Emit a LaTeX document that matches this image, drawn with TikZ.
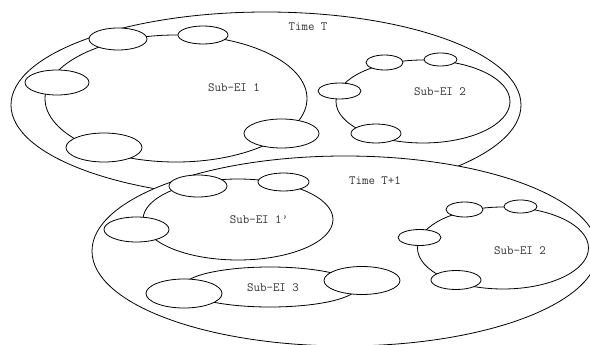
\documentclass[tikz,border=0pt]{standalone}
\usetikzlibrary{shapes.geometric}
\begin{document}
\begin{tikzpicture}[x=1pt,y=-1pt,line width=0.8pt,
  ell/.style 2 args={ellipse,draw=black,inner sep=0pt,minimum width=#1pt,minimum height=#2pt},
  outer/.style 2 args={ell={#1}{#2},fill=white},
  loop/.style 2 args={ell={#1}{#2}},
  blob/.style 2 args={ell={#1}{#2},fill=white},
  lbl/.style={inner sep=0pt,font=\fontsize{12.6}{14}\selectfont\ttfamily,text=black!80}]
\clip (0,0) rectangle (590,345);
\fill[white] (0,0) rectangle (590,345);
% ---- Time T ----
\node[outer={510}{186}] (tT) at (266,105) {};
\node[lbl] (ltT) at (308,27) {Time T};
% Sub-EI 1
\node[loop={262}{127}] (s1) at (176,98.5) {};
\node[lbl] (ls1) at (234,88) {Sub-EI 1};
\node[blob={58}{22}] (s1a) at (118,39) {};
\node[blob={50}{18}] (s1b) at (203,35) {};
\node[blob={64}{25}] (s1c) at (57,82.5) {};
\node[blob={76}{29}] (s1d) at (104,147.5) {};
\node[blob={75}{29}] (s1e) at (281.5,133.5) {};
% Sub-EI 2 (time T)
\node[loop={174}{83}] (s2) at (423,101.5) {};
\node[lbl] (ls2) at (440,92) {Sub-EI 2};
\node[blob={37}{15}] (s2a) at (384.5,62.5) {};
\node[blob={33}{13}] (s2b) at (440.5,59.5) {};
\node[blob={43}{16}] (s2c) at (339.5,91) {};
\node[blob={50}{19}] (s2d) at (376,133.5) {};
% ---- Time T+1 ----
\node[outer={506}{190}] (tT1) at (345,251) {};
\node[lbl] (ltT1) at (375,181) {Time T+1};
% Sub-EI 1'
\node[loop={190}{81}] (s1p) at (238,219.5) {};
\node[lbl] (ls1p) at (259,220) {Sub-EI 1’};
\node[blob={58}{22}] (s1pa) at (198,186) {};
\node[blob={51}{18}] (s1pb) at (283.5,182) {};
\node[blob={65}{25}] (s1pc) at (136.5,229.5) {};
% Sub-EI 3
\node[loop={174}{40}] (s3) at (270,287) {};
\node[lbl] (ls3) at (273,288) {Sub-EI 3};
\node[blob={76}{29}] (s3a) at (184,293.5) {};
\node[blob={76}{28}] (s3b) at (362,280.5) {};
% Sub-EI 2 (time T+1)
\node[loop={171}{82}] (s2p) at (503,248) {};
\node[lbl] (ls2p) at (520,251) {Sub-EI 2};
\node[blob={37}{15}] (s2pa) at (464.5,209.5) {};
\node[blob={33}{13}] (s2pb) at (520.5,206.5) {};
\node[blob={43}{16}] (s2pc) at (419.5,237.5) {};
\node[blob={50}{19}] (s2pd) at (456,280) {};
\end{tikzpicture}
\end{document}
